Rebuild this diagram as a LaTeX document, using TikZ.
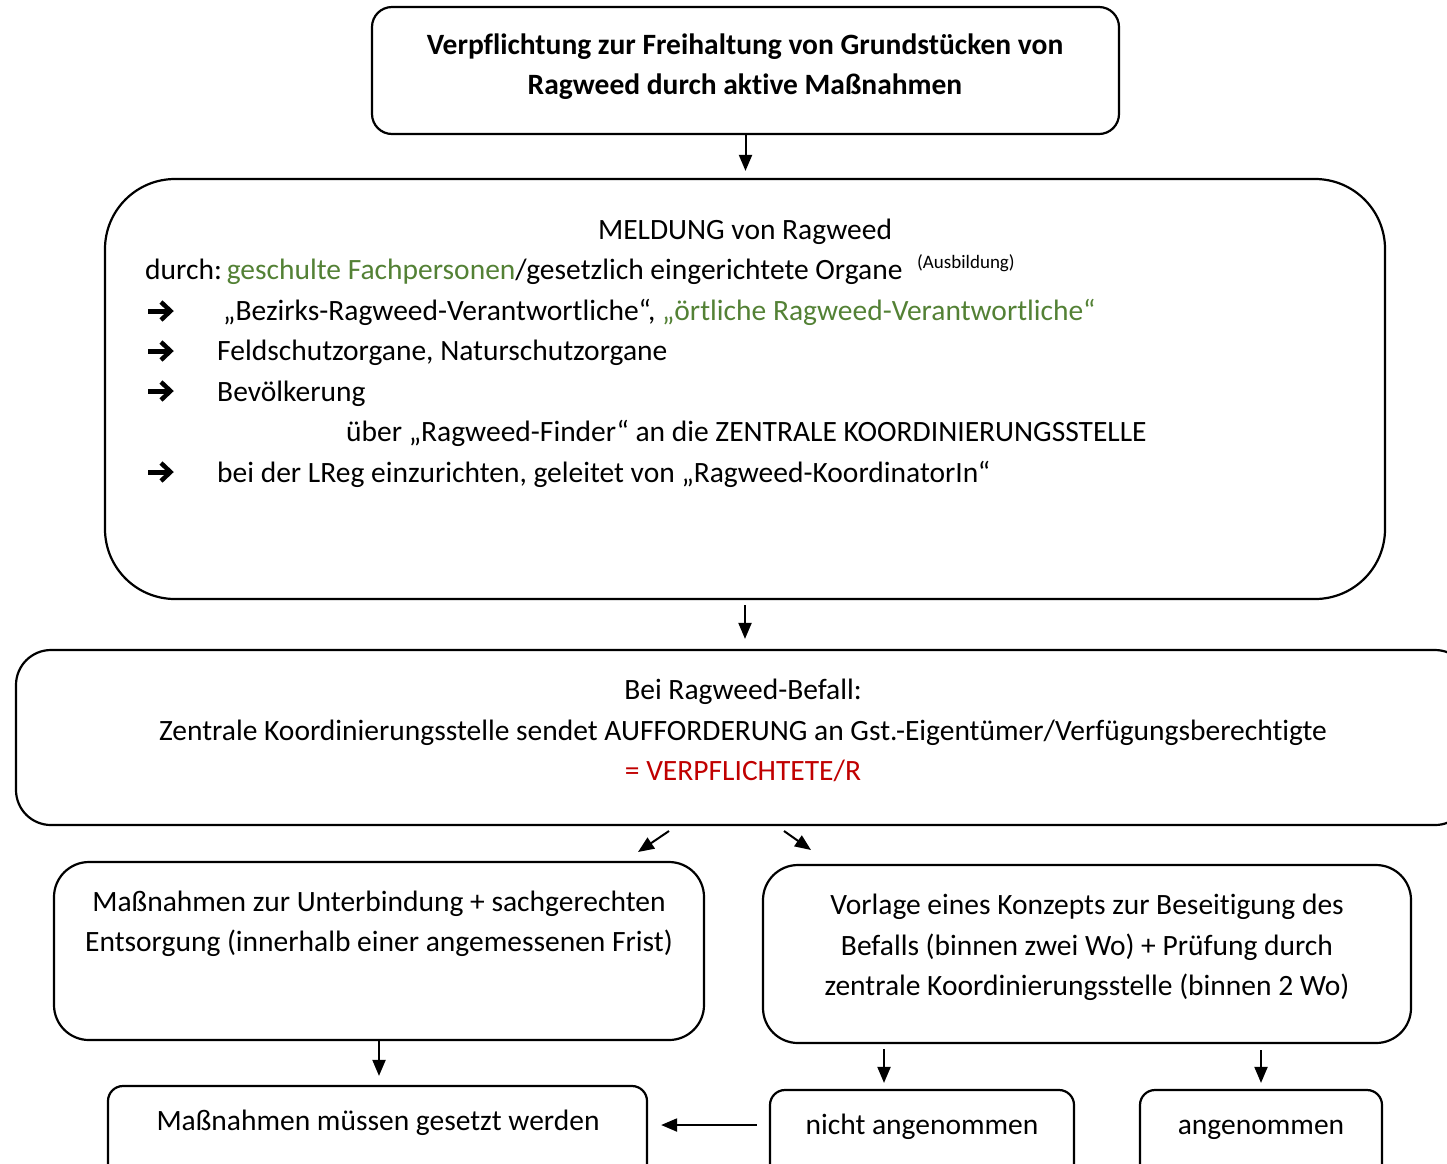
\documentclass[tikz,border=0pt]{standalone}
\usepackage{fontspec}
\setmainfont{Carlito}[Ligatures={TeX,NoCommon}]
\usetikzlibrary{arrows.meta}
\definecolor{grn}{HTML}{538135}
\definecolor{rd}{HTML}{C00000}
\tikzset{
  box/.style={draw, line width=2.2pt, rounded corners=#1, inner sep=0pt},
  txt/.style={anchor=base, inner sep=0pt, font=\fontsize{29.5}{35}\selectfont},
  ltxt/.style={txt, anchor=base west},
  btxt/.style={txt, font=\fontsize{29.5}{35}\selectfont\bfseries},
  arr/.style={-{Triangle[length=16pt,width=13pt]}, line width=2pt},
  bularrow/.pic={
    \draw[line width=5pt] (0,0) -- (21,0);
    \draw[line width=4.5pt, miter limit=10] (13,-9) -- (22.5,0) -- (13,9);
  },
}
\begin{document}
\begin{tikzpicture}[x=1pt,y=-1pt]
\useasboundingbox (0,0) rectangle (1447,1163);
\clip (0,0) rectangle (1447,1163);
% boxes
\node[box=20pt, minimum width=747pt, minimum height=127pt] (top) at (745.5,70.5) {};
\node[box=70pt, minimum width=1280pt, minimum height=420pt] (meld) at (745,389) {};
\node[box=35pt, minimum width=1454pt, minimum height=175pt] (aufford) at (743,737.5) {};
\node[box=35pt, minimum width=650pt, minimum height=178pt] (massn) at (379,951) {};
\node[box=35pt, minimum width=648pt, minimum height=178pt] (konz) at (1087,954) {};
\node[box=15pt, minimum width=539pt, minimum height=104pt] (gesetzt) at (377.5,1138) {};
\node[box=15pt, minimum width=304pt, minimum height=100pt] (nicht) at (922,1140) {};
\node[box=15pt, minimum width=242pt, minimum height=100pt] (angen) at (1261,1140) {};
% texts top
\node[btxt] (t1) at (745,54) {Verpflichtung zur Freihaltung von Grundstücken von};
\node[btxt] (t2) at (745,94) {Ragweed durch aktive Maßnahmen};
% meldung
\node[txt] (m1) at (745,239) {MELDUNG von Ragweed};
\node[ltxt] (m2) at (145,279) {durch:\,\textcolor{grn}{geschulte Fachpersonen}/gesetzlich eingerichtete Organe};
\node[anchor=base west, inner sep=0pt, font=\fontsize{19}{22}\selectfont] (m2s) at (917,268) {(Ausbildung)};
\pic at (148,311) {bularrow};
\node[ltxt] (m3) at (223,320) {„Bezirks-Ragweed-Verantwortliche“, \textcolor{grn}{„örtliche Ragweed-Verantwortliche“}};
\pic at (148,351) {bularrow};
\node[ltxt] (m4) at (217,360) {Feldschutzorgane, Naturschutzorgane};
\pic at (148,391) {bularrow};
\node[ltxt] (m5) at (217,401) {Bevölkerung};
\node[ltxt] (m6) at (346,441) {über „Ragweed-Finder“ an die ZENTRALE KOORDINIERUNGSSTELLE};
\pic at (148,472) {bularrow};
\node[ltxt] (m7) at (217,482) {bei der LReg einzurichten, geleitet von „Ragweed-KoordinatorIn“};
% aufforderung
\node[txt] (a1) at (743,699) {Bei Ragweed-Befall:};
\node[txt] (a2) at (743,740) {Zentrale Koordinierungsstelle sendet AUFFORDERUNG an Gst.-Eigentümer/Verfügungsberechtigte};
\node[txt, text=rd] (a3) at (743,780) {= VERPFLICHTETE/R};
% left
\node[txt] (l1) at (379,911) {Maßnahmen zur Unterbindung + sachgerechten};
\node[txt] (l2) at (379,951) {Entsorgung (innerhalb einer angemessenen Frist)};
% right
\node[txt] (r1) at (1087,914) {Vorlage eines Konzepts zur Beseitigung des};
\node[txt] (r2) at (1087,955) {Befalls (binnen zwei Wo) + Prüfung durch};
\node[txt] (r3) at (1087,995) {zentrale Koordinierungsstelle (binnen 2 Wo)};
% bottom
\node[txt] (g1) at (378,1130) {Maßnahmen müssen gesetzt werden};
\node[txt] (n1) at (922,1134) {nicht angenommen};
\node[txt] (an1) at (1261,1134) {angenommen};
% connectors
\draw[arr, shorten >=7pt] (top.south) -- (top.south |- meld.north);
\draw[arr, shorten <=5pt, shorten >=10pt] (meld.south) -- (meld.south |- aufford.north);
\coordinate (d1s) at (669,831);
\coordinate (d1e) at (638,852);
\coordinate (d2s) at (784,831);
\coordinate (d2e) at (811,850);
\draw[arr] (d1s) -- (d1e);
\draw[arr] (d2s) -- (d2e);
\draw[arr, shorten >=9pt] (massn.south) -- (massn.south |- gesetzt.north);
\coordinate (k1) at (884,1043);
\draw[arr, shorten <=6pt, shorten >=6pt] (k1) -- (k1 |- nicht.north);
\draw[arr, shorten <=6pt, shorten >=6pt] (angen.north |- konz.south) -- (angen.north);
\draw[arr, shorten <=12pt, shorten >=13pt] ([yshift=15pt]nicht.west) -- ([yshift=15pt]nicht.west -| gesetzt.east);
\end{tikzpicture}
\end{document}
